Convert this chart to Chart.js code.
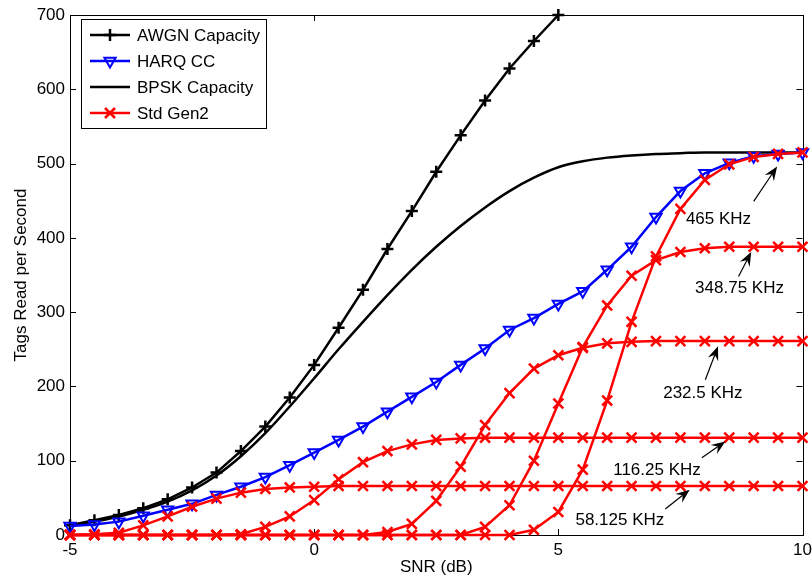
<!DOCTYPE html>
<html>
<head>
<meta charset="utf-8">
<title>Tags Read per Second vs SNR</title>
<script src="https://cdn.jsdelivr.net/npm/chart.js@4.4.0/dist/chart.umd.min.js"></script>
<style>
  html, body { margin: 0; padding: 0; background: #fff; }
  #wrap { width: 812px; height: 579px; }
</style>
</head>
<body>
<div id="wrap"><canvas id="chart" width="812" height="579"></canvas></div>
<script>
// SNR grid (dB), one sample every 0.5 dB
const SNR_DB = [-5, -4.5, -4, -3.5, -3, -2.5, -2, -1.5, -1, -0.5, 0, 0.5, 1, 1.5, 2, 2.5,
  3, 3.5, 4, 4.5, 5, 5.5, 6, 6.5, 7, 7.5, 8, 8.5, 9, 9.5, 10];

// AWGN capacity leaves the plot at 5 dB, so it only has the first 21 samples
const AWGN_CAPACITY = [13, 20, 27, 36, 48, 64, 84, 113, 146, 185, 229, 279, 330, 385, 436,
  489, 538, 585, 628, 665, 700];
const HARQ_CC = [12, 14, 18, 26, 34, 42, 54, 65, 78, 94, 111, 128, 146, 166, 186, 206, 229,
  251, 276, 292, 311, 328, 357, 388, 428, 463, 487, 501, 510, 513, 515];
const BPSK_CAPACITY = [13, 18, 25, 34, 45, 60, 80, 106, 137, 173, 211, 250, 287, 323, 357,
  388, 416, 441, 463, 481, 495, 503, 508, 511, 513, 514, 515, 515, 515, 515, 515];

// Std Gen2 throughput for each link frequency
const GEN2_58 = [0, 1, 3, 13, 25, 38, 49, 57, 62, 64, 65, 66, 66, 66, 66, 66, 66, 66, 66, 66,
  66, 66, 66, 66, 66, 66, 66, 66, 66, 66, 66];
const GEN2_116 = [0, 0, 0, 0, 0, 0, 0, 1, 11, 25, 47, 75, 98, 113, 122, 128, 130, 131, 131,
  131, 131, 131, 131, 131, 131, 131, 131, 131, 131, 131, 131];
const GEN2_232 = [0, 0, 0, 0, 0, 0, 0, 0, 0, 0, 0, 0, 0, 4, 15, 46, 92, 148, 191, 224, 242,
  252, 258, 260, 261, 261, 261, 261, 261, 261, 261];
const GEN2_348 = [0, 0, 0, 0, 0, 0, 0, 0, 0, 0, 0, 0, 0, 0, 0, 0, 0, 11, 40, 100, 177, 253,
  309, 349, 370, 381, 386, 388, 388, 388, 388];
const GEN2_465 = [0, 0, 0, 0, 0, 0, 0, 0, 0, 0, 0, 0, 0, 0, 0, 0, 0, 0, 0, 7, 31, 88, 181,
  287, 375, 439, 478, 499, 509, 513, 515];
const GEN2_SERIES = [GEN2_58, GEN2_116, GEN2_232, GEN2_348, GEN2_465];

const X_TICKS = [-5, 0, 5, 10];
const Y_TICKS = [0, 100, 200, 300, 400, 500, 600, 700];

// Frequency call-outs: label anchor, arrow tail and arrow head in (dB, tags/s)
const NOTE_TEXT = ['58.125 KHz', '116.25 KHz', '232.5 KHz', '348.75 KHz', '465 KHz'];
const NOTE_TEXT_AT = [[6.26, 20], [7.02, 87], [7.96, 191], [8.71, 332], [8.28, 425]];
const NOTE_TAIL = [[7.19, 35], [7.94, 104], [8.01, 209], [8.69, 348], [9.0, 449]];
const NOTE_HEAD = [[7.69, 61], [8.42, 126], [8.27, 254], [8.95, 381], [9.48, 496]];

const FONT = '"Liberation Sans", Arial, Helvetica, sans-serif';
const BLACK = '#000000';
const BLUE = '#0000ff';
const RED = '#ff0000';

function points(ys) {
  return ys.map((v, i) => ({ x: SNR_DB[i], y: v }));
}

// MATLAB-style marker used by the legend
function drawMarker(ctx, style, cx, cy, color) {
  ctx.save();
  ctx.strokeStyle = color;
  ctx.lineWidth = 2.5;
  ctx.beginPath();
  if (style === 'cross') {
    ctx.moveTo(cx - 6, cy); ctx.lineTo(cx + 6, cy);
    ctx.moveTo(cx, cy - 6); ctx.lineTo(cx, cy + 6);
  } else if (style === 'crossRot') {
    ctx.moveTo(cx - 5, cy - 5); ctx.lineTo(cx + 5, cy + 5);
    ctx.moveTo(cx + 5, cy - 5); ctx.lineTo(cx - 5, cy + 5);
  } else if (style === 'triangle') {
    ctx.lineWidth = 2;
    ctx.moveTo(cx, cy + 6.5);
    ctx.lineTo(cx - 5.6, cy - 3.2);
    ctx.lineTo(cx + 5.6, cy - 3.2);
    ctx.closePath();
  }
  ctx.stroke();
  ctx.restore();
}

// Axis box with inward tick marks on all four sides
const frame = {
  id: 'frame',
  beforeDatasetsDraw(chart) {
    const { ctx, chartArea: a, scales: { x, y } } = chart;
    const len = 6;
    ctx.save();
    ctx.strokeStyle = BLACK;
    ctx.lineWidth = 1;
    ctx.beginPath();
    X_TICKS.forEach(v => {
      const px = Math.round(x.getPixelForValue(v)) + 0.5;
      ctx.moveTo(px, a.bottom); ctx.lineTo(px, a.bottom - len);
      ctx.moveTo(px, a.top); ctx.lineTo(px, a.top + len);
    });
    Y_TICKS.forEach(v => {
      const py = Math.round(y.getPixelForValue(v)) + 0.5;
      ctx.moveTo(a.left, py); ctx.lineTo(a.left + len, py);
      ctx.moveTo(a.right, py); ctx.lineTo(a.right - len, py);
    });
    ctx.stroke();
    ctx.strokeRect(Math.round(a.left) + 0.5, Math.round(a.top) + 0.5,
      Math.round(a.right - a.left), Math.round(a.bottom - a.top));
    ctx.restore();
  }
};

// Text labels with arrows pointing at each Gen2 curve
const notes = {
  id: 'notes',
  afterDatasetsDraw(chart) {
    const { ctx, scales: { x, y } } = chart;
    ctx.save();
    ctx.font = '17px ' + FONT;
    ctx.fillStyle = BLACK;
    ctx.strokeStyle = BLACK;
    ctx.lineWidth = 1.2;
    ctx.textAlign = 'center';
    ctx.textBaseline = 'middle';
    NOTE_TEXT.forEach((t, i) => {
      ctx.fillText(t, x.getPixelForValue(NOTE_TEXT_AT[i][0]), y.getPixelForValue(NOTE_TEXT_AT[i][1]));
      const x0 = x.getPixelForValue(NOTE_TAIL[i][0]);
      const y0 = y.getPixelForValue(NOTE_TAIL[i][1]);
      const x1 = x.getPixelForValue(NOTE_HEAD[i][0]);
      const y1 = y.getPixelForValue(NOTE_HEAD[i][1]);
      const d = Math.hypot(x1 - x0, y1 - y0);
      const ux = (x1 - x0) / d, uy = (y1 - y0) / d;
      const headLen = 14, headHalf = 5.5, notch = 9;
      ctx.beginPath();
      ctx.moveTo(x0, y0);
      ctx.lineTo(x1 - ux * notch, y1 - uy * notch);
      ctx.stroke();
      ctx.beginPath();
      ctx.moveTo(x1, y1);
      ctx.lineTo(x1 - ux * headLen - uy * headHalf, y1 - uy * headLen + ux * headHalf);
      ctx.lineTo(x1 - ux * notch, y1 - uy * notch);
      ctx.lineTo(x1 - ux * headLen + uy * headHalf, y1 - uy * headLen - ux * headHalf);
      ctx.closePath();
      ctx.fill();
    });
    ctx.restore();
  }
};

// Boxed legend in the upper-left corner of the axes
const LEGEND_ROWS = [0, 1, 2, 3];
const legendBox = {
  id: 'legendBox',
  afterDraw(chart) {
    const { ctx, chartArea: a } = chart;
    const left = Math.round(a.left) + 11, top = Math.round(a.top) + 4;
    const w = 185, h = 109, rowH = 26;
    ctx.save();
    ctx.fillStyle = '#ffffff';
    ctx.fillRect(left, top, w, h);
    ctx.strokeStyle = BLACK;
    ctx.lineWidth = 1;
    ctx.strokeRect(left + 0.5, top + 0.5, w, h);
    ctx.font = '17px ' + FONT;
    ctx.textAlign = 'left';
    ctx.textBaseline = 'middle';
    LEGEND_ROWS.forEach((di, r) => {
      const ds = chart.data.datasets[di];
      const cy = top + 16 + r * rowH;
      ctx.strokeStyle = ds.borderColor;
      ctx.lineWidth = 2.5;
      ctx.beginPath();
      ctx.moveTo(left + 9, cy);
      ctx.lineTo(left + 49, cy);
      ctx.stroke();
      if (ds.pointRadius > 0) drawMarker(ctx, ds.pointStyle, left + 29, cy, ds.borderColor);
      ctx.fillStyle = BLACK;
      ctx.fillText(ds.label, left + 56, cy + 1);
    });
    ctx.restore();
  }
};

const gen2Sets = GEN2_SERIES.map((ys, i) => ({
  label: 'Std Gen2',
  data: points(ys),
  borderColor: RED,
  backgroundColor: RED,
  borderWidth: 2.5,
  pointStyle: 'crossRot',
  pointRadius: 7,
  pointBorderWidth: 2.5,
  tension: 0,
  order: 1
}));

new Chart(document.getElementById('chart'), {
  type: 'line',
  data: {
    datasets: [
      {
        label: 'AWGN Capacity',
        data: points(AWGN_CAPACITY),
        borderColor: BLACK,
        backgroundColor: BLACK,
        borderWidth: 2.5,
        pointStyle: 'cross',
        pointRadius: 6,
        pointBorderWidth: 2.5,
        tension: 0,
        order: 3
      },
      {
        label: 'HARQ CC',
        data: points(HARQ_CC),
        borderColor: BLUE,
        backgroundColor: 'rgba(0,0,0,0)',
        borderWidth: 2.5,
        pointStyle: 'triangle',
        pointRotation: 180,
        pointRadius: 6.5,
        pointBorderWidth: 2,
        tension: 0,
        order: 2
      },
      {
        label: 'BPSK Capacity',
        data: points(BPSK_CAPACITY),
        borderColor: BLACK,
        backgroundColor: BLACK,
        borderWidth: 2.5,
        pointRadius: 0,
        cubicInterpolationMode: 'monotone',
        order: 4
      },
      ...gen2Sets
    ]
  },
  options: {
    responsive: false,
    devicePixelRatio: 1,
    animation: false,
    events: [],
    clip: false,
    layout: { padding: { top: 15, right: 8, bottom: 0, left: 0 } },
    scales: {
      x: {
        type: 'linear',
        min: -5,
        max: 10,
        afterBuildTicks: s => { s.ticks = X_TICKS.map(v => ({ value: v })); },
        afterFit: s => { s.height = 44; s.paddingLeft = 0; s.paddingRight = 0; },
        grid: { display: false, drawTicks: false },
        border: { display: false },
        ticks: { color: BLACK, font: { family: FONT, size: 17 }, padding: 5, maxRotation: 0 },
        title: {
          display: true,
          text: 'SNR (dB)',
          color: BLACK,
          font: { family: FONT, size: 17 },
          padding: { top: 0, bottom: 1 }
        }
      },
      y: {
        min: 0,
        max: 700,
        afterBuildTicks: s => { s.ticks = Y_TICKS.map(v => ({ value: v })); },
        afterFit: s => { s.width = 70; s.paddingTop = 0; s.paddingBottom = 0; },
        grid: { display: false, drawTicks: false },
        border: { display: false },
        ticks: { color: BLACK, font: { family: FONT, size: 17 }, padding: 5 },
        title: {
          display: true,
          text: 'Tags Read per Second',
          color: BLACK,
          font: { family: FONT, size: 17 },
          padding: { top: 11, bottom: 0 }
        }
      }
    },
    plugins: {
      legend: { display: false },
      tooltip: { enabled: false }
    }
  },
  plugins: [frame, notes, legendBox]
});
</script>
</body>
</html>
